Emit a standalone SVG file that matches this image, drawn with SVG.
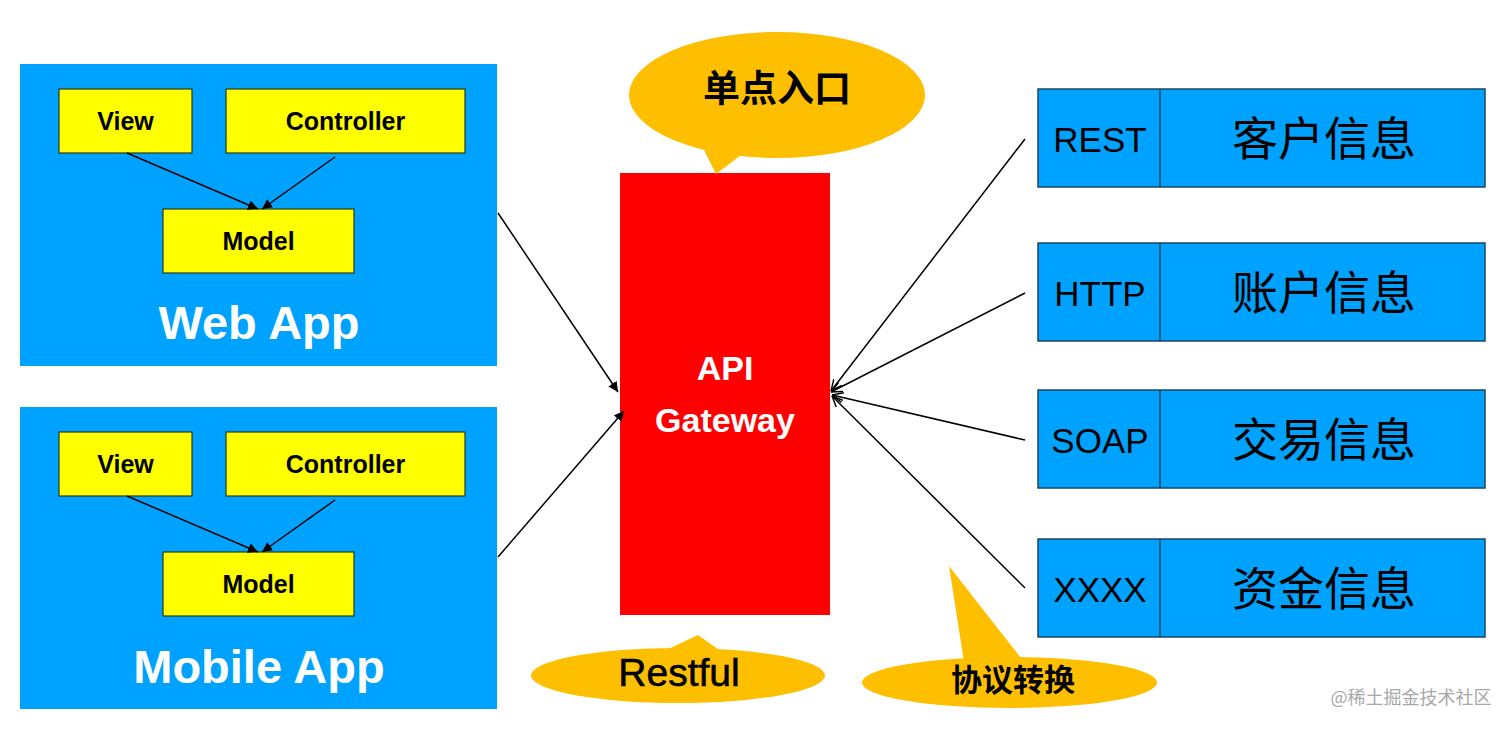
<svg xmlns="http://www.w3.org/2000/svg" width="1512" height="729" viewBox="0 0 1512 729">
<defs>
<style>
.app{fill:#00A2FF;}
.mvc{fill:#FFFF00;stroke:#2a3a1a;stroke-width:1.2;}
.mvct{font-family:"Liberation Sans",Arial,sans-serif;font-weight:bold;font-size:25px;fill:#000;text-anchor:middle;}
.appt{font-family:"Liberation Sans",Arial,sans-serif;font-weight:bold;font-size:47px;fill:#fff;text-anchor:middle;}
.gw{fill:#FF0000;}
.gwt{font-family:"Liberation Sans",Arial,sans-serif;font-weight:bold;font-size:34px;fill:#fff;text-anchor:middle;}
.svc{fill:#00A2FF;stroke:#1d4560;stroke-width:1.5;}
.svct{font-family:"Liberation Sans",Arial,sans-serif;font-size:35px;fill:#000;text-anchor:middle;}
.svcc{font-family:"Noto Sans CJK SC",sans-serif;font-size:46px;fill:#000;text-anchor:middle;}
.bub{fill:#FDBF00;}
.bubt{font-family:"Noto Sans CJK SC",sans-serif;font-weight:bold;fill:#000;text-anchor:middle;}
.ln{stroke:#000;stroke-width:1.5;fill:none;}
</style>
<marker id="af" viewBox="0 0 10 10" refX="10" refY="5" markerWidth="10" markerHeight="10" markerUnits="userSpaceOnUse" orient="auto"><path d="M0,0 L10,5 L0,10 Z" fill="#000"/></marker>
<marker id="ao" viewBox="0 0 10 10" refX="10" refY="5" markerWidth="11" markerHeight="11" markerUnits="userSpaceOnUse" orient="auto"><path d="M0,0.5 L10,5 L0,9.5" fill="none" stroke="#000" stroke-width="1.3"/></marker>
</defs>
<rect width="1512" height="729" fill="#fff"/>

<g id="web-app">
<rect class="app" x="20" y="64" width="477" height="302"/>
<text class="appt" x="259" y="339">Web App</text>
</g>
<g id="web-view"><rect class="mvc" x="59" y="89" width="133" height="64"/><text class="mvct" x="125.5" y="130">View</text></g>
<g id="web-controller"><rect class="mvc" x="226" y="89" width="239" height="64"/><text class="mvct" x="345.5" y="130">Controller</text></g>
<g id="web-model"><rect class="mvc" x="163" y="209" width="191" height="64"/><text class="mvct" x="258.5" y="250">Model</text></g>

<g id="mobile-app">
<rect class="app" x="20" y="407" width="477" height="302"/>
<text class="appt" x="259" y="683">Mobile App</text>
</g>
<g id="mobile-view"><rect class="mvc" x="59" y="432" width="133" height="64"/><text class="mvct" x="125.5" y="473">View</text></g>
<g id="mobile-controller"><rect class="mvc" x="226" y="432" width="239" height="64"/><text class="mvct" x="345.5" y="473">Controller</text></g>
<g id="mobile-model"><rect class="mvc" x="163" y="552" width="191" height="64"/><text class="mvct" x="258.5" y="593">Model</text></g>

<g id="gateway">
<rect class="gw" x="620" y="173" width="210" height="442"/>
<text class="gwt" x="725" y="380">API</text>
<text class="gwt" x="725" y="432">Gateway</text>
</g>

<g id="svc-customer">
<rect class="svc" x="1038" y="89" width="447" height="98"/>
<line x1="1160" y1="89" x2="1160" y2="187" stroke="#1d4560" stroke-width="1.5"/>
<text class="svct" x="1100" y="152">REST</text>
<text class="svcc" x="1324" y="155">客户信息</text>
</g>
<g id="svc-account">
<rect class="svc" x="1038" y="243" width="447" height="98"/>
<line x1="1160" y1="243" x2="1160" y2="341" stroke="#1d4560" stroke-width="1.5"/>
<text class="svct" x="1100" y="306">HTTP</text>
<text class="svcc" x="1324" y="309">账户信息</text>
</g>
<g id="svc-trade">
<rect class="svc" x="1038" y="390" width="447" height="98"/>
<line x1="1160" y1="390" x2="1160" y2="488" stroke="#1d4560" stroke-width="1.5"/>
<text class="svct" x="1100" y="453">SOAP</text>
<text class="svcc" x="1324" y="456">交易信息</text>
</g>
<g id="svc-fund">
<rect class="svc" x="1038" y="539" width="447" height="98"/>
<line x1="1160" y1="539" x2="1160" y2="637" stroke="#1d4560" stroke-width="1.5"/>
<text class="svct" x="1100" y="602">XXXX</text>
<text class="svcc" x="1324" y="605">资金信息</text>
</g>

<g id="bubble-entry">
<ellipse class="bub" cx="777" cy="95" rx="148" ry="63"/>
<polygon class="bub" points="704,150 716,174 745,152"/>
<text class="bubt" x="777" y="102" font-size="37">单点入口</text>
</g>
<g id="bubble-restful">
<ellipse class="bub" cx="678" cy="675.5" rx="147" ry="27.5"/>
<polygon class="bub" points="662,652 698,635 722,652"/>
<text x="679" y="686" font-family="Liberation Sans, Arial, sans-serif" font-size="39" fill="#000" stroke="#000" stroke-width="0.6" text-anchor="middle">Restful</text>
</g>
<g id="bubble-protocol">
<ellipse class="bub" cx="1009.5" cy="682.5" rx="147.5" ry="25.5"/>
<polygon class="bub" points="964,662 949,566 1024,662"/>
<text class="bubt" x="1013" y="691" font-size="31">协议转换</text>
</g>

<g id="connectors">
<line class="ln" x1="127" y1="153" x2="258" y2="209" marker-end="url(#af)"/>
<line class="ln" x1="335" y1="157" x2="262" y2="209" marker-end="url(#af)"/>
<line class="ln" x1="127" y1="496" x2="258" y2="552" marker-end="url(#af)"/>
<line class="ln" x1="335" y1="500" x2="262" y2="552" marker-end="url(#af)"/>
<line class="ln" x1="498" y1="213" x2="618" y2="392" marker-end="url(#af)"/>
<line class="ln" x1="498" y1="557" x2="624" y2="411" marker-end="url(#af)"/>
<line class="ln" x1="1025" y1="139" x2="831" y2="391" marker-end="url(#ao)"/>
<line class="ln" x1="1025" y1="293" x2="831" y2="392" marker-end="url(#ao)"/>
<line class="ln" x1="1025" y1="440" x2="832" y2="395" marker-end="url(#ao)"/>
<line class="ln" x1="1025" y1="588" x2="832" y2="396" marker-end="url(#ao)"/>
</g>

<text x="1411" y="704" font-family="Noto Sans CJK SC, sans-serif" font-size="18" fill="#a8a8a8" text-anchor="middle">@稀土掘金技术社区</text>
</svg>
